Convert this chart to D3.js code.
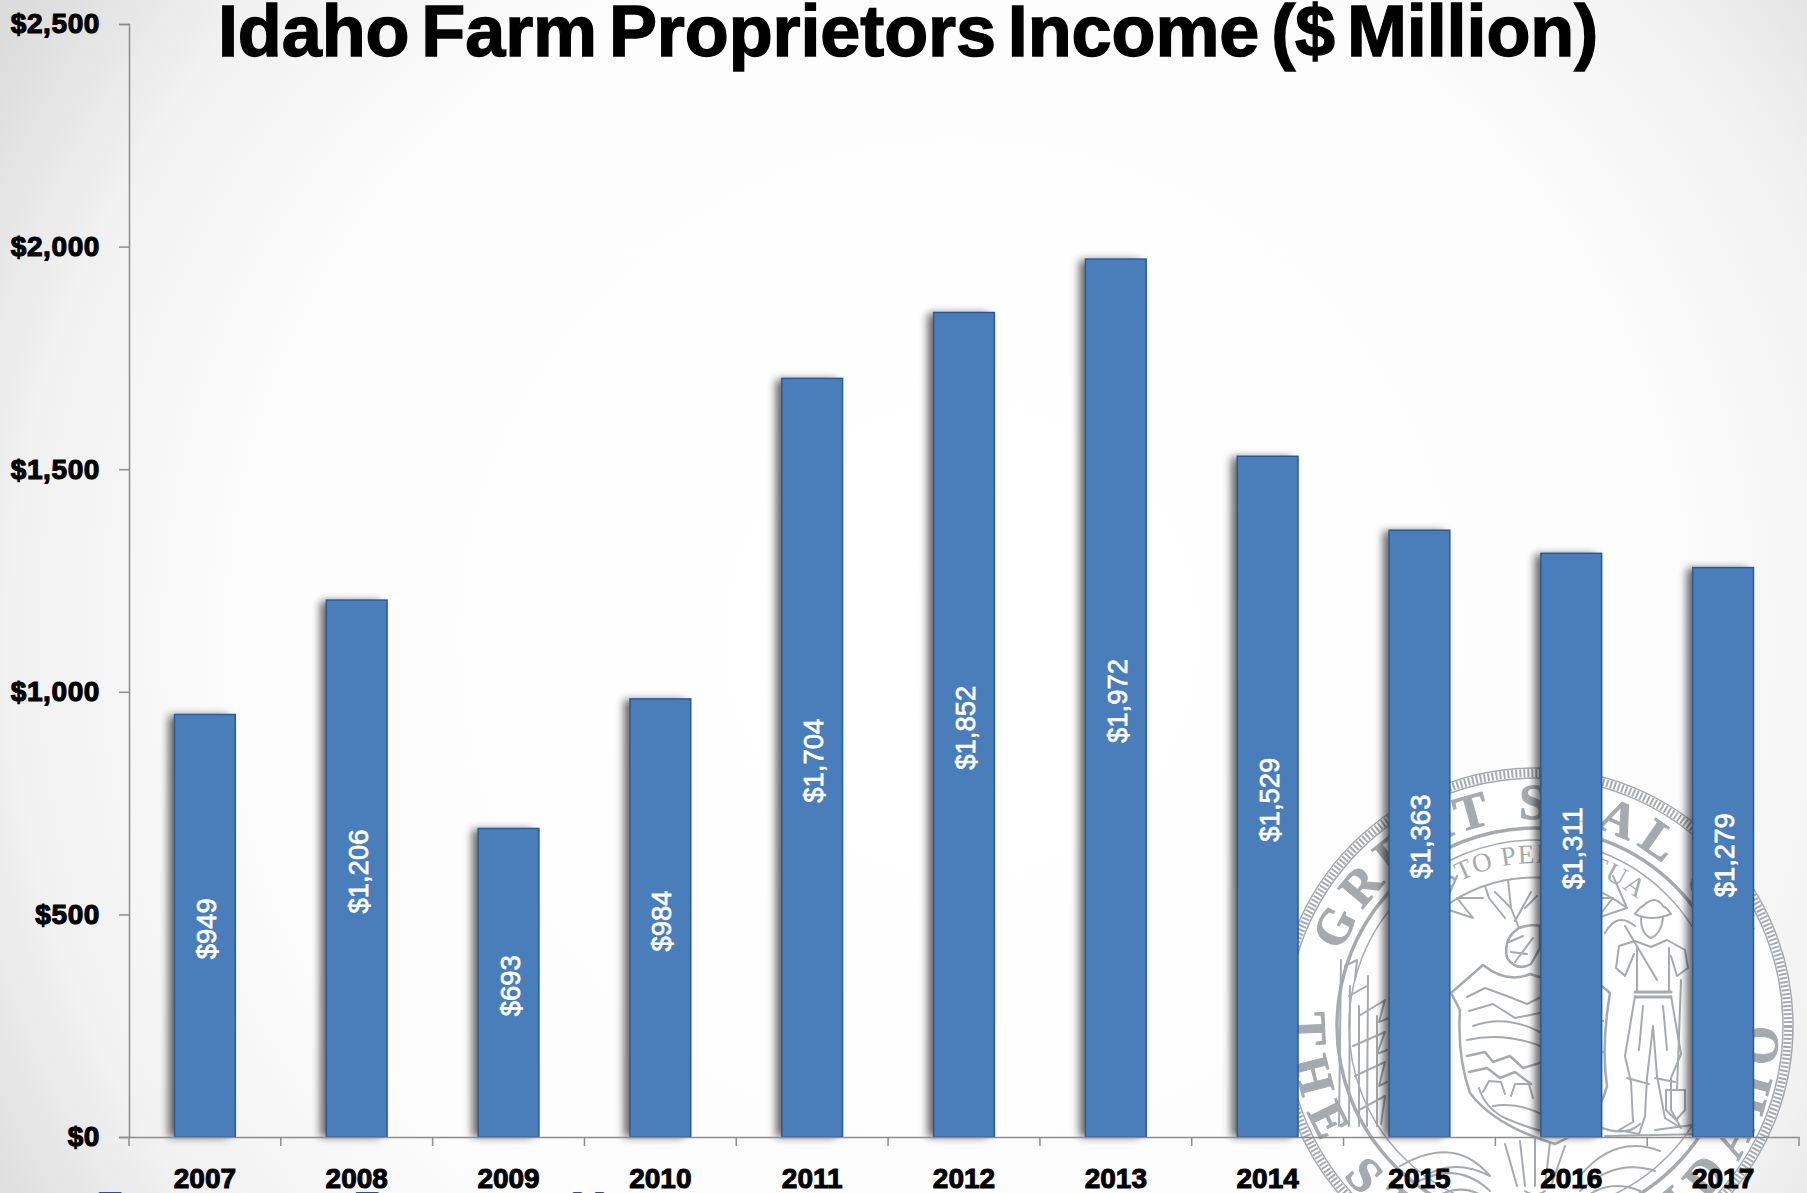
<!DOCTYPE html>
<html>
<head>
<meta charset="utf-8">
<script src="https://d3js.org/d3.v7.min.js"></script>
<style>
html, body { margin: 0; padding: 0; background: #fff; overflow: hidden; }
text { font-family: "Liberation Sans", Arial, sans-serif; }
</style>
</head>
<body>
<div id="chart"></div>
<script>
var years = ["2007","2008","2009","2010","2011","2012","2013","2014","2015","2016","2017"];
var income = [949,1206,693,984,1704,1852,1972,1529,1363,1311,1279];
var yTicks = [0,500,1000,1500,2000,2500];
var titleText = "Idaho Farm Proprietors Income ($ Million)";

var width = 1807, height = 1193;
var axisLeft = 129, axisRight = 1799, axisTop = 24, axisBottom = 1137;

var svg = d3.select("#chart").append("svg")
    .attr("width", width)
    .attr("height", height)
    .style("display", "block");

var defs = svg.append("defs");

// slide background, white middle going grey in the corners
var bg = defs.append("radialGradient").attr("id", "bg")
    .attr("gradientUnits", "userSpaceOnUse")
    .attr("cx", 960).attr("cy", 640).attr("r", 1130);
bg.append("stop").attr("offset", "0").attr("stop-color", "#ffffff");
bg.append("stop").attr("offset", "0.62").attr("stop-color", "#fdfdfd");
bg.append("stop").attr("offset", "0.84").attr("stop-color", "#f1f1f1");
bg.append("stop").attr("offset", "1").attr("stop-color", "#dcdcdc");

var shadow = defs.append("filter").attr("id", "barShadow")
    .attr("x", "-40%").attr("width", "170%").attr("y", "-3%").attr("height", "106%");
shadow.append("feGaussianBlur").attr("stdDeviation", 4);

svg.append("rect").attr("width", width).attr("height", height).attr("fill", "url(#bg)");

drawSeal(svg.append("g").attr("transform", "translate(1535,1026)"));

// blue footer line, only the tops of its capitals show at the slide edge
svg.selectAll(".footer").data([["F",96],["F",353],["M",570]]).enter().append("text")
    .attr("class", "footer")
    .attr("x", function(d) { return d[1]; })
    .attr("y", 1223)
    .attr("font-size", 44).attr("font-weight", "bold").attr("fill", "#2f4b9a")
    .text(function(d) { return d[0]; });

var x = d3.scaleBand().domain(years).range([axisLeft, axisRight]).paddingInner(0.6).paddingOuter(0.3);
var y = d3.scaleLinear().domain([0, 2500]).range([axisBottom, axisTop]);

// soft shadow left of each bar
svg.append("g").selectAll("rect").data(income).enter().append("rect")
    .attr("x", function(d, i) { return x(years[i]) - 6; })
    .attr("y", function(d) { return y(d) + 1; })
    .attr("width", x.bandwidth())
    .attr("height", function(d) { return y(0) - y(d) - 1; })
    .attr("fill", "#000")
    .attr("opacity", 0.6)
    .attr("filter", "url(#barShadow)");

svg.append("g").selectAll("rect").data(income).enter().append("rect")
    .attr("x", function(d, i) { return x(years[i]); })
    .attr("y", function(d) { return y(d); })
    .attr("width", x.bandwidth())
    .attr("height", function(d) { return y(0) - y(d); })
    .attr("fill", "#4a7ebb")
    .attr("stroke", "#2c5a96")
    .attr("stroke-width", 1.5);

var yAxis = d3.axisLeft(y).tickValues(yTicks).tickSize(10).tickPadding(19)
    .tickFormat(function(d) { return "$" + d3.format(",")(d); });
var gy = svg.append("g").attr("transform", "translate(" + axisLeft + ",0)").call(yAxis);

var xAxis = d3.axisBottom(x).tickSize(0).tickPadding(31);
var gx = svg.append("g").attr("transform", "translate(0," + axisBottom + ")").call(xAxis);

// ticks sit between the categories, not under them
gx.selectAll(".edge").data(d3.range(years.length + 1)).enter().append("line")
    .attr("class", "edge")
    .attr("x1", function(d) { return axisLeft + d * x.step(); })
    .attr("x2", function(d) { return axisLeft + d * x.step(); })
    .attr("y1", 0).attr("y2", 9)
    .attr("stroke", "#8c8c8c").attr("stroke-width", 1.5);

gy.selectAll("path, line").attr("stroke", "#8c8c8c").attr("stroke-width", 1.5);
gx.selectAll("path").attr("stroke", "#8c8c8c").attr("stroke-width", 1.5);
gy.selectAll("text").attr("font-size", 28).attr("font-weight", "bold").attr("letter-spacing", 0.6).attr("fill", "#000").attr("stroke", "#000").attr("stroke-width", 1.1);
gx.selectAll("text").attr("font-size", 28).attr("font-weight", "bold").attr("fill", "#000").attr("stroke", "#000").attr("stroke-width", 1);

svg.append("g").selectAll("text").data(income).enter().append("text")
    .attr("transform", function(d, i) {
        return "translate(" + (x(years[i]) + x.bandwidth() / 2 + 11) + "," + ((y(0) + y(d)) / 2 + 3) + ") rotate(-90)";
    })
    .attr("text-anchor", "middle")
    .attr("font-size", 27.5)
    .attr("fill", "#fff")
    .attr("stroke", "#fff")
    .attr("stroke-width", 0.7)
    .text(function(d) { return "$" + d3.format(",")(d); });

svg.append("text")
    .attr("x", 908).attr("y", 56)
    .attr("text-anchor", "middle")
    .attr("font-size", 72)
    .attr("font-weight", "bold")
    .attr("word-spacing", -8)
    .attr("letter-spacing", -0.1)
    .attr("fill", "#000")
    .attr("stroke", "#000")
    .attr("stroke-width", 1.4)
    .text(titleText);

// the state seal watermark behind the chart
function drawSeal(g) {
    var grey = "#a6aaae";
    g.append("circle").attr("r", 258).attr("fill", "#fff").attr("opacity", 0.9);
    g.append("circle").attr("r", 258).attr("fill", "none").attr("stroke", grey).attr("stroke-width", 1.5);
    g.append("circle").attr("r", 253).attr("fill", "none").attr("stroke", grey).attr("stroke-width", 8).attr("stroke-dasharray", "2 2");
    g.append("circle").attr("r", 248).attr("fill", "none").attr("stroke", grey).attr("stroke-width", 1.5);
    g.append("circle").attr("r", 198).attr("fill", "none").attr("stroke", grey).attr("stroke-width", 3.5);
    g.append("circle").attr("r", 186).attr("fill", "none").attr("stroke", grey).attr("stroke-width", 1.5);

    defs.append("path").attr("id", "sealTop").attr("d", "M-207,0A207,207 0 1,1 207,0");
    defs.append("path").attr("id", "sealBottom").attr("d", "M-243,0A243,243 0 0,0 243,0");
    defs.append("path").attr("id", "sealMotto").attr("d", "M-163,0A163,163 0 1,1 163,0");

    g.append("text").attr("font-size", 50).attr("font-weight", "bold").attr("fill", grey)
        .attr("stroke", grey).attr("stroke-width", 1)
        .attr("letter-spacing", 8).attr("text-anchor", "middle")
        .style("font-family", "'Liberation Serif', serif")
        .append("textPath").attr("href", "#sealTop").attr("startOffset", "50%").text("GREAT SEAL OF");
    g.append("text").attr("font-size", 50).attr("font-weight", "bold").attr("fill", grey)
        .attr("stroke", grey).attr("stroke-width", 1)
        .attr("letter-spacing", 14).attr("text-anchor", "middle")
        .style("font-family", "'Liberation Serif', serif")
        .append("textPath").attr("href", "#sealBottom").attr("startOffset", "50%").text("THE STATE OF IDAHO");
    g.append("text").attr("font-size", 27).attr("fill", grey).attr("letter-spacing", 1).attr("text-anchor", "middle")
        .style("font-family", "'Liberation Serif', serif")
        .append("textPath").attr("href", "#sealMotto").attr("startOffset", "50%").text("ESTO PERPETUA");

    var line = function(d, w) {
        g.append("path").attr("d", d).attr("fill", "none").attr("stroke", grey)
            .attr("stroke-width", w || 2).attr("stroke-linejoin", "round").attr("stroke-linecap", "round");
    };
    // motto band and its curled ends
    line("M-92,-118 A154,154 0 0,1 92,-118", 2);
    line("M-92,-118 L-78,-150 M92,-118 L78,-150", 2);
    line("M-92,-118 L-62,-108 L-78,-128 L-52,-128 M92,-118 L62,-108 L78,-128 L52,-128", 2);
    // shield
    line("M-84,-33 L-52,-61 Q-28,-42 -5,-52 Q18,-42 42,-61 L75,-33 Q66,20 72,60 Q62,100 20,118 Q-40,100 -65,67 Q-78,30 -75,-16 Z", 2.5);
    // mountains, fields and the little team in the shield
    line("M-68,-29 L-50,-38 L-28,-30 L-8,-22 L8,-30 L40,-12 L68,-5", 2);
    line("M-66,-15 L-42,-22 L-20,-8 L10,-14 M-62,0 Q-30,-12 5,6 M-68,14 Q-30,5 10,22 Q40,30 68,26", 2);
    line("M-68,30 L-50,26 L-42,36 L-25,30 L-12,42 L8,36 M-66,46 L-48,42 L-35,52 L-20,46 L-4,58", 2.5);
    line("M-52,66 L-46,55 L-34,56 L-30,68 M-24,70 L-20,58 L-6,58 L-2,72 M-42,80 Q-15,76 10,90 M-56,62 Q-50,82 -30,92 Q-8,102 18,108", 2);
    // elk and antlers
    line("M-27,-146 L-24,-118 L-16,-98 M-24,-118 L-40,-134 M-30,-108 L-46,-128 L-50,-140 M-20,-105 L-4,-134 M-10,-118 L2,-130", 2);
    line("M-16,-98 Q-32,-88 -28,-68 Q-18,-54 -4,-62 L5,-78 L5,-100 Q-4,-102 -16,-98 Z", 2.5);
    line("M-26,-84 L-12,-90 M-24,-74 L-8,-72 M-20,-64 L-2,-88", 2);
    // miner with the pick on his shoulder
    line("M100,-112 Q116,-104 136,-112 Q132,-118 128,-120 Q120,-132 108,-120 Q104,-118 100,-112 Z", 2);
    line("M106,-108 Q106,-92 116,-88 Q126,-92 128,-108", 2);
    line("M70,-93 Q82,-115 100,-100 M90,-100 L122,-46 M100,-85 L84,-80 L81,-58 L90,-50 L99,-72 M132,-86 L150,-76 L153,-58 L142,-50 L136,-70", 2);
    line("M100,-85 L116,-79 L132,-86 M102,-78 L102,-34 M134,-78 L134,-34", 2);
    line("M100,-34 L136,-34 M100,-29 L136,-29", 3);
    line("M100,-30 L90,30 L96,56 L98,96 L84,104 L104,108 L110,90 L112,52 L118,0 L122,50 L130,92 L146,102 L136,84 L136,52 L146,28 L136,-30", 2);
    line("M92,52 L114,58 M120,52 L140,56 M108,-20 L104,24 M128,-20 L132,24", 2);
    // shovel
    line("M146,-46 L142,64 M131,64 L150,64 L150,84 L141,94 L131,84 Z", 2);
    // ground under the miner
    line("M62,100 Q90,112 105,98 M120,104 L165,98 M70,110 L170,108", 2);
    // pine trees on the left side
    line("M-196,100 L-194,-66 M-186,100 L-185,-40 M-176,100 L-176,-20 M-168,100 L-167,-50 M-158,100 L-158,-10", 2);
    line("M-190,-60 L-178,-66 L-180,-46 M-186,-30 L-168,-40 M-176,-10 L-150,-26 L-156,-4 L-146,-8 M-182,20 L-150,6 L-158,28 L-148,24 M-180,50 L-150,36 L-156,60 L-148,56 M-176,84 L-150,70 L-154,98", 2);
    // grain and horns of plenty at the foot of the seal
    line("M-135,140 Q-80,108 -45,150 Q-80,132 -110,150 M-125,160 Q-80,132 -45,165 M-105,175 Q-70,150 -40,180", 2);
    line("M45,150 Q80,108 125,125 M45,165 Q80,132 120,145 M40,180 Q70,150 105,165", 2);
    line("M-15,115 L-10,160 M0,112 L0,160 M15,116 L10,160 M30,120 L16,160 M-30,118 L-18,160 M-10,165 Q0,172 10,165 M-20,190 Q0,170 20,190", 2);
}
</script>
</body>
</html>
